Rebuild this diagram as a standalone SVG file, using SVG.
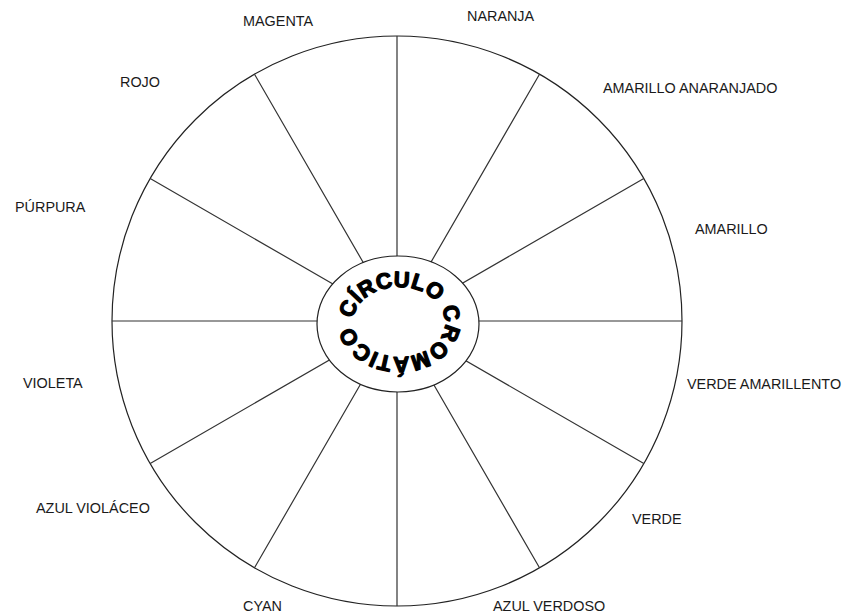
<svg xmlns="http://www.w3.org/2000/svg" width="847" height="614" viewBox="0 0 847 614">
  <style>
    .lbl { font-family: "Liberation Sans", Arial, sans-serif; font-size: 14.4px; fill: #1a1a1a; }
    .ring { fill: none; stroke: #222; stroke-width: 1.2; }
    .spoke { stroke: #333; stroke-width: 1.2; fill: none; }
    .title { font-family: "Liberation Sans", Arial, sans-serif; font-size: 22px; font-weight: bold; fill: #000; stroke: #000; stroke-width: 1.3; stroke-linejoin: round; letter-spacing: 0.4px; }
  </style>
  <defs>
    <path id="titlePath" d="M353 322 A46 35 0 0 1 445 322 A46 35 0 0 1 353 322"/>
  </defs>
  <rect width="847" height="614" fill="#fff"/>
  <g id="wheel">
    <circle class="ring" cx="397" cy="321" r="285" fill="#fff"/>
  </g>
  <g id="connectors">
    <path class="spoke" d="M397 321 L397 36 M397 321 L539.5 74.2 M397 321 L643.8 178.5 M397 321 L682 321 M397 321 L643.8 463.5 M397 321 L539.5 567.8 M397 321 L397 606 M397 321 L254.5 567.8 M397 321 L150.2 463.5 M397 321 L112 321 M397 321 L150.2 178.5 M397 321 L254.5 74.2"/>
  </g>
  <g id="center">
    <ellipse cx="398" cy="324" rx="81" ry="68" fill="#fff" stroke="#222" stroke-width="1.2"/>
    <text class="title"><textPath href="#titlePath" startOffset="3">CÍRCULO CROMÁTICO</textPath></text>
  </g>
  <g id="labels">
    <g id="magenta"><text class="lbl" x="243" y="26">MAGENTA</text></g>
    <g id="naranja"><text class="lbl" x="467" y="21">NARANJA</text></g>
    <g id="rojo"><text class="lbl" x="120" y="87">ROJO</text></g>
    <g id="amarillo-anaranjado"><text class="lbl" x="603" y="93">AMARILLO ANARANJADO</text></g>
    <g id="purpura"><text class="lbl" x="15" y="212">PÚRPURA</text></g>
    <g id="amarillo"><text class="lbl" x="695" y="234">AMARILLO</text></g>
    <g id="violeta"><text class="lbl" x="23" y="388">VIOLETA</text></g>
    <g id="verde-amarillento"><text class="lbl" x="687" y="389">VERDE AMARILLENTO</text></g>
    <g id="azul-violaceo"><text class="lbl" x="36" y="513">AZUL VIOLÁCEO</text></g>
    <g id="verde"><text class="lbl" x="632" y="524">VERDE</text></g>
    <g id="cyan"><text class="lbl" x="243" y="611">CYAN</text></g>
    <g id="azul-verdoso"><text class="lbl" x="493" y="611">AZUL VERDOSO</text></g>
  </g>
</svg>
